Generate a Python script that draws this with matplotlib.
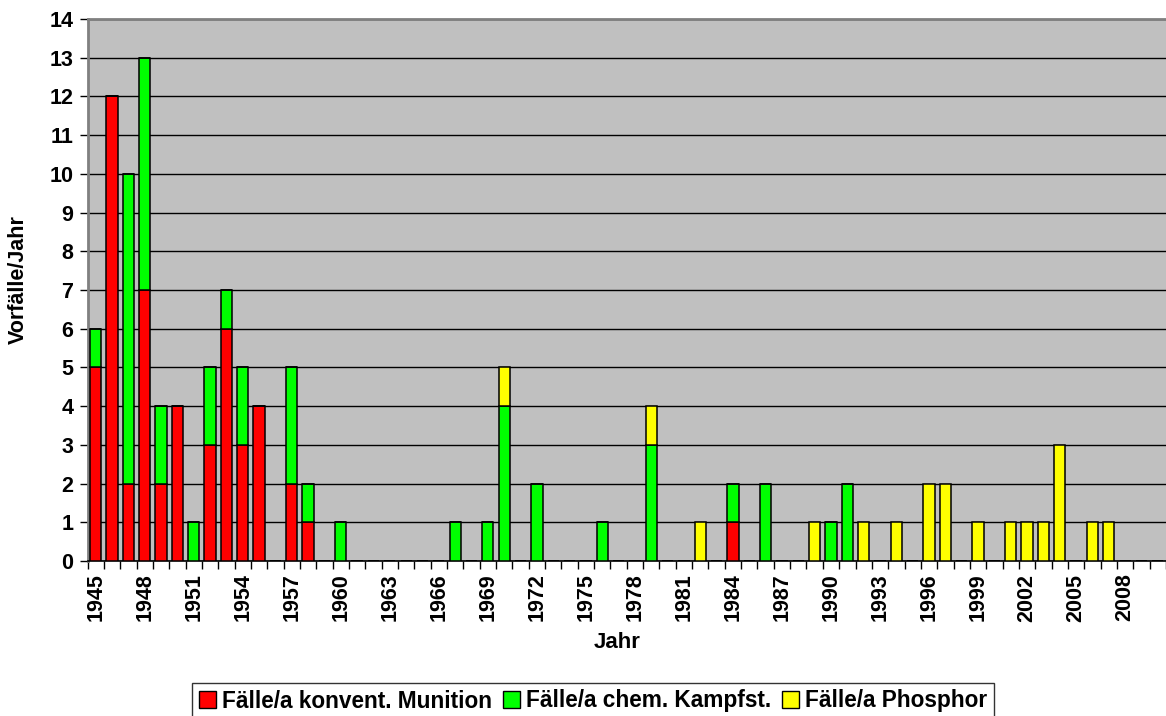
import matplotlib
matplotlib.use("Agg")
import matplotlib.pyplot as plt
from matplotlib.patches import Patch
import numpy as np

plt.rcParams['font.family'] = ['Liberation Sans', 'DejaVu Sans']
plt.rcParams['font.weight'] = 'bold'

years = list(range(1945, 2011))

# incidents per year, conventional munitions
konvent = [5, 12, 2, 7, 2, 4, 0, 3, 6, 3, 4, 0, 2, 1, 0, 0,
           0, 0, 0, 0, 0, 0, 0, 0, 0, 0, 0, 0, 0, 0, 0, 0,
           0, 0, 0, 0, 0, 0, 0, 1, 0, 0, 0, 0, 0, 0, 0, 0,
           0, 0, 0, 0, 0, 0, 0, 0, 0, 0, 0, 0, 0, 0, 0, 0,
           0, 0]
# incidents per year, chemical warfare agents
chem = [1, 0, 8, 6, 2, 0, 1, 2, 1, 2, 0, 0, 3, 1, 0, 1,
        0, 0, 0, 0, 0, 0, 1, 0, 1, 4, 0, 2, 0, 0, 0, 1,
        0, 0, 3, 0, 0, 0, 0, 1, 0, 2, 0, 0, 0, 1, 2, 0,
        0, 0, 0, 0, 0, 0, 0, 0, 0, 0, 0, 0, 0, 0, 0, 0,
        0, 0]
# incidents per year, phosphorus
phosphor = [0, 0, 0, 0, 0, 0, 0, 0, 0, 0, 0, 0, 0, 0, 0, 0,
            0, 0, 0, 0, 0, 0, 0, 0, 0, 1, 0, 0, 0, 0, 0, 0,
            0, 0, 1, 0, 0, 1, 0, 0, 0, 0, 0, 0, 1, 0, 0, 1,
            0, 1, 0, 2, 2, 0, 1, 0, 1, 1, 1, 3, 0, 1, 1, 0,
            0, 0]

series_labels = ["Fälle/a konvent. Munition", "Fälle/a chem. Kampfst.", "Fälle/a Phosphor"]
colors = ["#FF0000", "#00FF00", "#FFFF00"]

FS = 15.5
W, H = 1166, 716
fig = plt.figure(figsize=(W / 100, H / 100), dpi=100)
left_px, top_px, bottom_px = 87.5, 19, 561
ax = fig.add_axes([left_px / W, 1 - bottom_px / H, 1 - left_px / W, (bottom_px - top_px) / H])
ax.set_facecolor("#C0C0C0")

x = np.arange(len(years))
k = np.array(konvent)
c = np.array(chem)
p = np.array(phosphor)
bw = 0.69
ax.bar(x, k, bw, color=colors[0], edgecolor="black", linewidth=1.1, zorder=3)
ax.bar(x, c, bw, bottom=k, color=colors[1], edgecolor="black", linewidth=1.1, zorder=3)
ax.bar(x, p, bw, bottom=k + c, color=colors[2], edgecolor="black", linewidth=1.1, zorder=3)

cat_px = 16.42
ax.set_xlim(-0.5, -0.5 + (W - left_px) / cat_px)
ax.set_ylim(0, 14)

# horizontal gridlines
ax.set_yticks(range(0, 15))
ax.yaxis.grid(True, color="black", linewidth=1.0, zorder=1)
ax.set_axisbelow(True)

# y ticks and labels
ax.tick_params(axis="y", direction="out", length=6, width=1, color="black",
               labelsize=FS, pad=4)
for lab in ax.get_yticklabels():
    lab.set_fontweight("bold")

# x: labels every three years, tick marks between categories
major = [i for i, yv in enumerate(years) if (yv - 1945) % 3 == 0]
ax.set_xticks(major)
ax.set_xticklabels([str(years[i]) for i in major], rotation=90, fontsize=FS, fontweight="bold")
ax.set_xticks(np.arange(-0.5, len(years), 1.0), minor=True)
ax.tick_params(axis="x", which="major", length=0, pad=9)
ax.tick_params(axis="x", which="minor", direction="out", length=6, width=1, color="black")

for side in ("top", "left"):
    ax.spines[side].set_color("#808080")
    ax.spines[side].set_linewidth(2)
ax.spines["bottom"].set_color("black")
ax.spines["bottom"].set_linewidth(1.2)
ax.spines["right"].set_visible(False)

fig.text(18 / W, 1 - 280 / H, "Vorfälle/Jahr", rotation=90, ha="center", va="center",
         fontsize=FS, fontweight="bold")
fig.text(617 / W, 1 - 643 / H, "Jahr", ha="center", va="center",
         fontsize=16, fontweight="bold")

handles = [Patch(facecolor=col, edgecolor="black", linewidth=1.0) for col in colors]
leg = fig.legend(handles, series_labels, loc="center", bbox_to_anchor=(593 / W, 1 - 701 / H),
                 ncol=3, frameon=True, fancybox=False,
                 prop={"weight": "bold", "size": 16.3},
                 handlelength=0.75, handleheight=0.75, handletextpad=0.25, columnspacing=0.5,
                 borderpad=0.3, borderaxespad=0)
leg.get_frame().set_edgecolor("black")
leg.get_frame().set_linewidth(1.0)

fig.savefig("out.png", dpi=100)
